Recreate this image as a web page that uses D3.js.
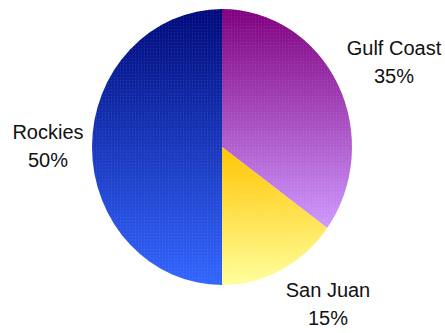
<!DOCTYPE html>
<html>
<head>
<meta charset="utf-8">
<script src="https://cdn.jsdelivr.net/npm/d3@7"></script>
<style>
  html, body { margin: 0; padding: 0; background: #fff; }
  svg { display: block; }
  text { font-family: Arial, "Liberation Sans", sans-serif; font-size: 20px; fill: #111; }
</style>
</head>
<body>
<script>
// Share of production by region
const regions = ["Gulf Coast", "San Juan", "Rockies"];
const shares = [35, 15, 50];
const gradientTop = ["#800080", "#ffc400", "#000a7a"];
const gradientBottom = ["#cf99ff", "#ffff9c", "#3366ff"];

const W = 445, H = 333;
const cx = 222, cy = 147, rx = 130, ry = 138;

const svg = d3.select("body").append("svg")
  .attr("width", W).attr("height", H);

const defs = svg.append("defs");
regions.forEach((r, i) => {
  const g = defs.append("linearGradient")
    .attr("id", "grad" + i)
    .attr("x1", 0).attr("y1", 0).attr("x2", 0).attr("y2", 1);
  g.append("stop").attr("offset", "0%").attr("stop-color", gradientTop[i]);
  g.append("stop").attr("offset", "100%").attr("stop-color", gradientBottom[i]);
});

// fine dither texture laid over the fills
const pat = defs.append("pattern")
  .attr("id", "dither").attr("width", 3).attr("height", 3)
  .attr("patternUnits", "userSpaceOnUse");
pat.append("rect").attr("x", 0).attr("y", 0).attr("width", 1).attr("height", 1)
  .attr("fill", "#fff").attr("fill-opacity", 0.12);

const pie = d3.pie().sort(null).value(d => d.value);
const arcs = pie(regions.map((r, i) => ({ region: r, value: shares[i], idx: i })));
const arc = d3.arc().innerRadius(0).outerRadius(rx);

const pieG = svg.append("g")
  .attr("transform", `translate(${cx},${cy}) scale(1,${ry / rx})`);

pieG.selectAll("path.slice")
  .data(arcs)
  .join("path")
  .attr("class", "slice")
  .attr("d", arc)
  .attr("fill", d => `url(#grad${d.data.idx})`);

pieG.selectAll("path.tex")
  .data(arcs)
  .join("path")
  .attr("class", "tex")
  .attr("d", arc)
  .attr("fill", "url(#dither)");

// label anchors relative to the pie centre
const labelOffsets = [[172, -92], [106, 150], [-174, -8]];
const labels = svg.append("g");
arcs.forEach(d => {
  const [dx, dy] = labelOffsets[d.data.idx];
  const t = labels.append("text")
    .attr("text-anchor", "middle")
    .attr("x", cx + dx).attr("y", cy + dy);
  t.append("tspan").attr("x", cx + dx).text(d.data.region);
  t.append("tspan").attr("x", cx + dx).attr("dy", 28).text(d.data.value + "%");
});
</script>
</body>
</html>
